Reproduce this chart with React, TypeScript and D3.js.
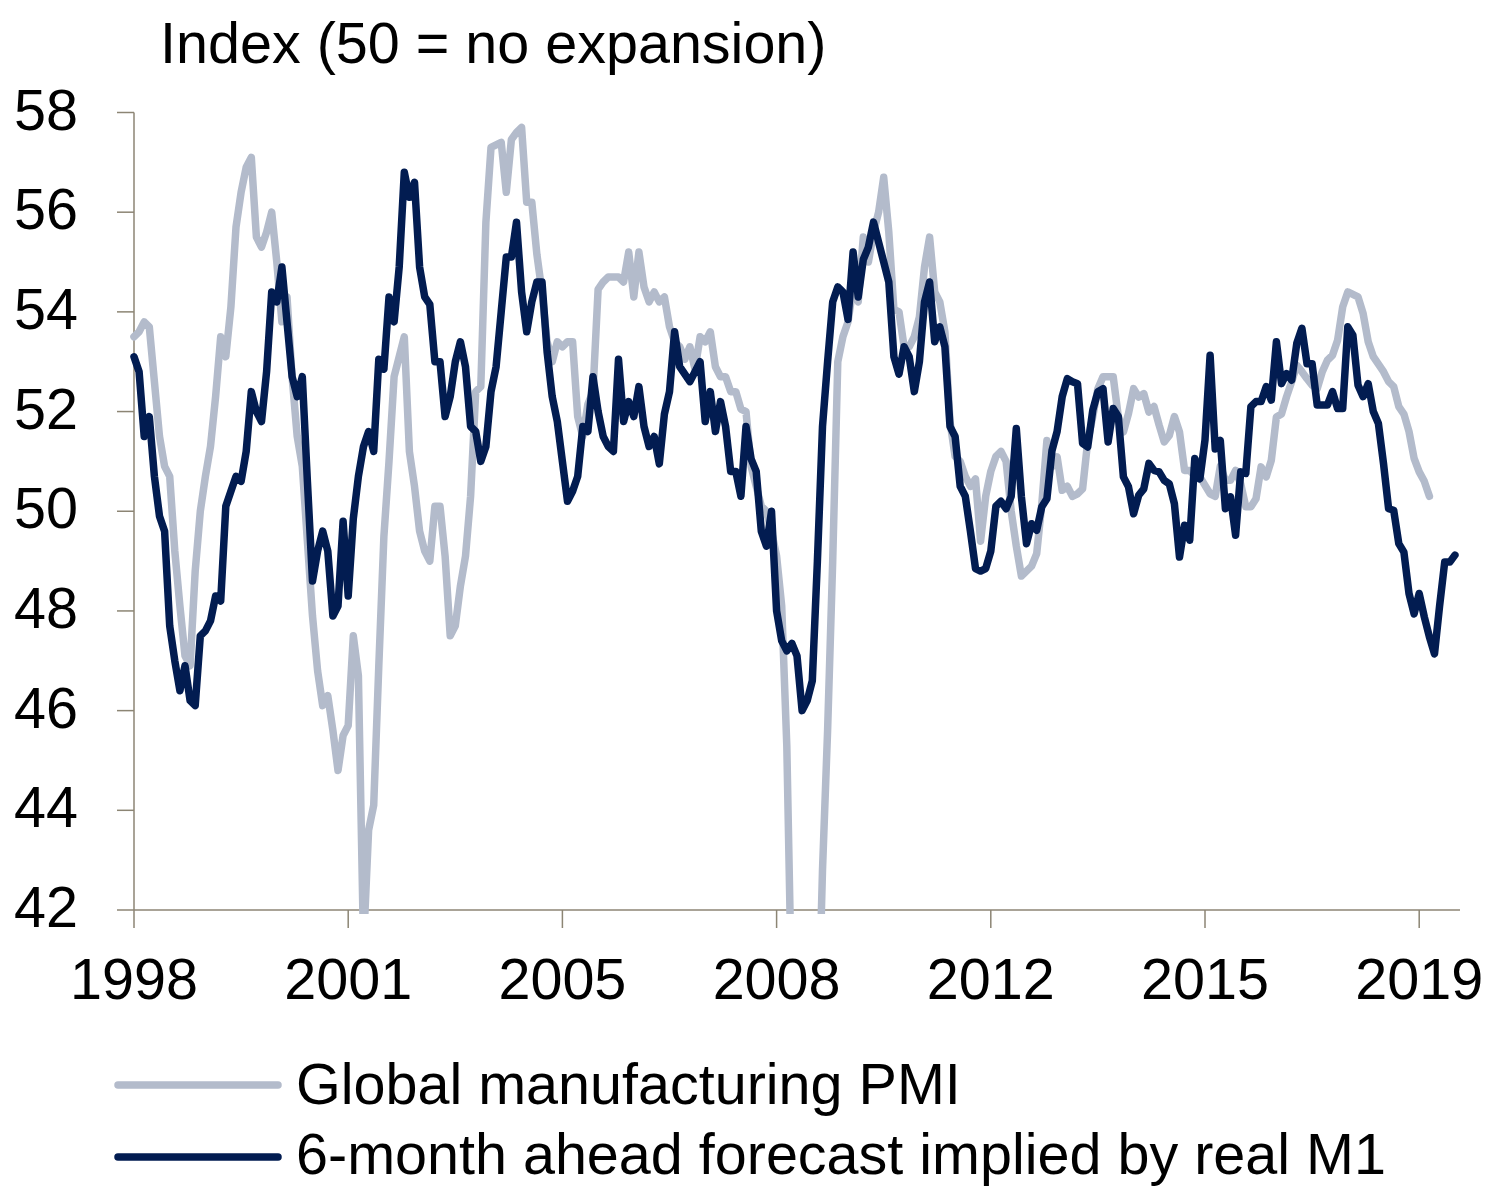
import React from "react";
import * as d3 from "d3";

// Monthly data starting January 1998
const pmi: number[] = [
  53.5, 53.6, 53.8, 53.7, 52.6, 51.5, 50.9, 50.7, 49.2, 48.1, 47.1, 46.9,
  48.8, 50.0, 50.7, 51.3, 52.3, 53.5, 53.1, 54.1, 55.7, 56.4, 56.9, 57.1,
  55.5, 55.3, 55.6, 56.0, 55.0, 53.8, 54.3, 52.7, 51.5, 50.9, 49.4, 47.9,
  46.8, 46.1, 46.3, 45.6, 44.8, 45.5, 45.7, 47.5, 46.7, 41.3, 43.6, 44.1,
  46.9, 49.5, 51.0, 52.7, 53.1, 53.5, 51.2, 50.5, 49.6, 49.2, 49.0, 50.1,
  50.1, 49.1, 47.5, 47.7, 48.5, 49.1, 50.3, 52.4, 52.5, 55.8, 57.3, 57.35,
  57.4, 56.4, 57.46, 57.6, 57.7, 56.2, 56.2, 55.15, 54.4, 53.4, 53.0, 53.4,
  53.3, 53.4, 53.4, 51.9, 51.5, 52.15, 52.4, 54.45, 54.6, 54.7, 54.7, 54.7,
  54.6, 55.2, 54.3, 55.2, 54.5, 54.2, 54.4, 54.2, 54.3, 53.7, 53.4, 53.3,
  53.05, 53.3, 52.85, 53.5, 53.4, 53.6, 52.9, 52.7, 52.7, 52.4, 52.4, 52.05,
  52.0, 50.9, 50.5, 50.1, 50.0, 49.6, 49.1, 48.1, 45.3, 40.0, 36.6, 33.7,
  34.9, 35.1, 39.0, 42.8, 45.6, 49.0, 53.0, 53.5, 53.8, 54.5, 54.2, 55.5,
  55.0, 55.6, 56.0, 56.7, 55.6, 54.05, 54.0, 53.3, 53.3, 53.5, 53.9, 54.9,
  55.5, 54.4, 54.2, 53.6, 51.8, 51.1, 51.0, 50.7, 50.5, 50.65, 49.4, 50.3,
  50.8, 51.1, 51.2, 51.0, 50.0, 49.3, 48.7, 48.8, 48.9, 49.15, 50.15, 51.42,
  50.89, 51.09, 50.42, 50.5, 50.3, 50.35, 50.45, 51.4, 51.9, 52.46, 52.7, 52.7,
  52.7, 51.9, 51.59, 51.96, 52.46, 52.29, 52.36, 51.99, 52.1, 51.73, 51.39, 51.52,
  51.9, 51.59, 50.82, 50.82, 50.7, 50.69, 50.52, 50.35, 50.3, 50.9, 50.62, 50.62,
  50.82, 50.55, 50.09, 50.09, 50.25, 50.89, 50.69, 51.02, 51.89, 51.95, 52.3, 52.6,
  52.93, 52.8, 52.66, 52.53, 52.46, 52.8, 53.03, 53.13, 53.43, 54.1, 54.4, 54.35,
  54.3, 53.97, 53.4, 53.1, 52.95, 52.8, 52.6, 52.5, 52.1, 51.95, 51.6, 51.06,
  50.79, 50.6, 50.3,
];

const m1Forecast: number[] = [
  53.1, 52.8, 51.5, 51.9, 50.7, 49.9, 49.6, 47.7, 47.0, 46.4, 46.9, 46.2,
  46.1, 47.5, 47.6, 47.8, 48.3, 48.2, 50.1, 50.4, 50.7, 50.6, 51.2, 52.4,
  52.0, 51.8, 52.8, 54.4, 54.2, 54.9, 53.8, 52.7, 52.3, 52.7, 50.6, 48.6,
  49.2, 49.6, 49.2, 47.9, 48.1, 49.8, 48.3, 49.85, 50.7, 51.3, 51.6, 51.2,
  53.05, 52.85, 54.3, 53.8, 54.9, 56.8, 56.3, 56.6, 54.9, 54.3, 54.15, 53.0,
  53.0, 51.9, 52.3, 53.0, 53.4, 52.9, 51.7, 51.6, 51.0, 51.3, 52.4, 52.9,
  54.0, 55.1, 55.1, 55.8, 54.4, 53.6, 54.2, 54.6, 54.6, 53.2, 52.3, 51.8,
  51.0, 50.2, 50.4, 50.7, 51.7, 51.6, 52.7, 52.0, 51.5, 51.3, 51.2, 53.05,
  51.8, 52.2, 51.9, 52.5, 51.7, 51.3, 51.5, 50.95, 51.95, 52.4, 53.6, 52.9,
  52.75, 52.6, 52.8, 53.0, 51.8, 52.4, 51.6, 52.2, 51.7, 50.8, 50.8, 50.3,
  51.7, 51.05, 50.8, 49.6, 49.3, 50.0, 48.0, 47.4, 47.2, 47.35, 47.1, 46.0,
  46.2, 46.6, 49.0, 51.7, 53.0, 54.2, 54.5, 54.4, 53.85, 55.2, 54.3, 55.05,
  55.3, 55.8, 55.4, 55.0, 54.6, 53.1, 52.75, 53.3, 53.1, 52.4, 53.0, 54.2,
  54.6, 53.4, 53.7, 53.3, 51.7, 51.5, 50.5, 50.3, 49.6, 48.85, 48.8, 48.85,
  49.2, 50.1, 50.2, 50.05, 50.3, 51.66, 50.29, 49.35, 49.75, 49.62, 50.09, 50.25,
  51.22, 51.6, 52.3, 52.66, 52.6, 52.56, 51.36, 51.29, 52.03, 52.4, 52.46, 51.39,
  52.06, 51.9, 50.69, 50.49, 49.95, 50.32, 50.45, 50.96, 50.82, 50.79, 50.62, 50.55,
  50.15, 49.08, 49.72, 49.42, 51.06, 50.65, 51.43, 53.13, 51.25, 51.42, 50.05, 50.29,
  49.52, 50.79, 50.76, 52.1, 52.2, 52.2, 52.5, 52.23, 53.4, 52.56, 52.76, 52.63,
  53.37, 53.67, 52.96, 52.96, 52.13, 52.13, 52.13, 52.4, 52.06, 52.06, 53.7, 53.53,
  52.53, 52.3, 52.56, 52.0, 51.76, 50.96, 50.05, 50.02, 49.35, 49.18, 48.35, 47.94,
  48.35, 47.88, 47.48, 47.14, 48.1, 48.98, 48.98, 49.12,
];

// x ticks: month index from Jan 1998, with year labels
const xTickMonths: number[] = [0, 42, 84, 126, 168, 210, 252];
const xTickLabels: string[] = ["1998", "2001", "2005", "2008", "2012", "2015", "2019"];
const yTicks: number[] = [42, 44, 46, 48, 50, 52, 54, 56, 58];

const seriesNames: string[] = [
  "Global manufacturing PMI",
  "6-month ahead forecast implied by real M1",
];
const title = "Index (50 = no expansion)";

const LIGHT = "#B3BBCB";
const DARK = "#021C51";
const AXIS = "#8C8574";
const FONT = "'Liberation Sans', Arial, Helvetica, sans-serif";
const FS = 57.5;

export default function App() {
  const W = 1489;
  const H = 1193;
  const x = d3.scaleLinear().domain([0, 260]).range([134, 1460]);
  const y = d3.scaleLinear().domain([42, 58]).range([910, 112.5]);

  const line = d3
    .line<number>()
    .x((_, i) => x(i))
    .y((d) => y(d));

  return (
    <svg
      width={W}
      height={H}
      viewBox={`0 0 ${W} ${H}`}
      style={{ position: "absolute", left: 0, top: 0, background: "#fff" }}
    >
      <defs>
        <clipPath id="plotClip">
          <rect x={120} y={100} width={1360} height={814} />
        </clipPath>
      </defs>
      <rect x={0} y={0} width={W} height={H} fill="#fff" />

      {/* title */}
      <text x={160} y={63} fontFamily={FONT} fontSize={FS} fill="#000">
        {title}
      </text>

      {/* y axis */}
      <line x1={134} x2={134} y1={y(58)} y2={y(42)} stroke={AXIS} strokeWidth={1.5} />
      {yTicks.map((t) => (
        <g key={t}>
          <line x1={117} x2={134} y1={y(t)} y2={y(t)} stroke={AXIS} strokeWidth={1.5} />
          <text
            x={78}
            y={y(t) + 17}
            textAnchor="end"
            fontFamily={FONT}
            fontSize={FS}
            fill="#000"
          >
            {t}
          </text>
        </g>
      ))}

      {/* x axis */}
      <line x1={134} x2={1460} y1={y(42)} y2={y(42)} stroke={AXIS} strokeWidth={1.5} />
      {xTickMonths.map((m, i) => (
        <g key={m}>
          <line x1={x(m)} x2={x(m)} y1={y(42)} y2={928} stroke={AXIS} strokeWidth={1.5} />
          <text
            x={x(m)}
            y={999}
            textAnchor="middle"
            fontFamily={FONT}
            fontSize={FS}
            fill="#000"
          >
            {xTickLabels[i]}
          </text>
        </g>
      ))}

      {/* series */}
      <g clipPath="url(#plotClip)">
        <path
          d={line(pmi) || ""}
          fill="none"
          stroke={LIGHT}
          strokeWidth={7.5}
          strokeLinejoin="round"
          strokeLinecap="round"
        />
        <path
          d={line(m1Forecast) || ""}
          fill="none"
          stroke={DARK}
          strokeWidth={7.5}
          strokeLinejoin="round"
          strokeLinecap="round"
        />
      </g>

      {/* legend */}
      <line x1={118} x2={278} y1={1085} y2={1085} stroke={LIGHT} strokeWidth={7.5} strokeLinecap="round" />
      <text x={296} y={1104} fontFamily={FONT} fontSize={FS} fill="#000">
        {seriesNames[0]}
      </text>
      <line x1={118} x2={278} y1={1157} y2={1157} stroke={DARK} strokeWidth={7.5} strokeLinecap="round" />
      <text x={296} y={1174} fontFamily={FONT} fontSize={FS} fill="#000">
        {seriesNames[1]}
      </text>
    </svg>
  );
}
